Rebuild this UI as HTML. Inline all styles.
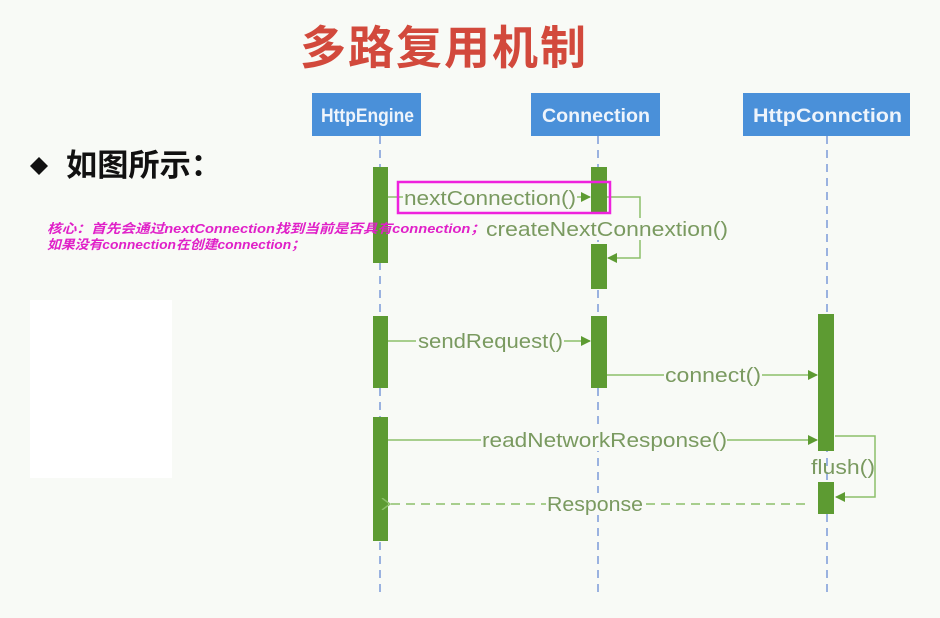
<!DOCTYPE html>
<html><head><meta charset="utf-8"><style>
body{margin:0;width:940px;height:618px;background:#f8faf6;position:relative;overflow:hidden;font-family:"Liberation Sans","Noto Sans CJK SC",sans-serif}
.t{position:absolute;white-space:nowrap}
</style></head><body>
<div class="t" style="left:300px;top:12px;font-size:46px;font-weight:bold;color:#d2493c;letter-spacing:2px">多路复用机制</div>
<div style="position:absolute;left:30px;top:300px;width:142px;height:178px;background:#fff"></div>
<svg width="940" height="618" style="position:absolute;left:0;top:0" font-family="Liberation Sans, Noto Sans CJK SC, sans-serif">
<defs><marker id="a" markerWidth="10" markerHeight="10" refX="9" refY="5" orient="auto" markerUnits="userSpaceOnUse"><path d="M0,0L10,5L0,10z" fill="#5d9b32"/></marker>
<marker id="o" markerWidth="10" markerHeight="12" refX="1" refY="6" orient="auto" markerUnits="userSpaceOnUse"><path d="M9,0L1,6L9,12" fill="none" stroke="#8cbf6a" stroke-width="1.5"/></marker></defs>
<path d="M30,166L39,157L48,166L39,175z" fill="#111"/>
<text x="66" y="176" font-size="31" font-weight="bold" fill="#111" textLength="156" lengthAdjust="spacingAndGlyphs">如图所示：</text>
<g stroke="#7a9ad8" stroke-width="1.5" stroke-dasharray="8,6"><line x1="380" y1="136" x2="380" y2="598"/><line x1="598" y1="136" x2="598" y2="598"/><line x1="827" y1="136" x2="827" y2="598"/></g>
<g fill="#4a90d9"><rect x="312" y="93" width="109" height="43"/><rect x="531" y="93" width="129" height="43"/><rect x="743" y="93" width="167" height="43"/></g>
<g fill="#eef4fb" font-size="19" font-weight="bold"><text x="321" y="122" textLength="93" lengthAdjust="spacingAndGlyphs">HttpEngine</text><text x="542" y="122" textLength="108" lengthAdjust="spacingAndGlyphs">Connection</text><text x="753" y="122" textLength="149" lengthAdjust="spacingAndGlyphs">HttpConnction</text></g>
<g fill="#5d9b32"><rect x="373" y="167" width="15" height="96"/><rect x="373" y="316" width="15" height="72"/><rect x="373" y="417" width="15" height="124"/><rect x="591" y="167" width="16" height="46"/><rect x="591" y="244" width="16" height="45"/><rect x="591" y="316" width="16" height="72"/><rect x="818" y="314" width="16" height="137"/><rect x="818" y="482" width="16" height="32"/></g>
<g font-size="13" font-style="italic" font-weight="bold" fill="#e020c8">
<text x="47" y="233" textLength="438" lengthAdjust="spacingAndGlyphs">核心：首先会通过nextConnection找到当前是否具有connection；</text>
<text x="47" y="249" textLength="258" lengthAdjust="spacingAndGlyphs">如果没有connection在创建connection；</text>
</g>
<g stroke="#8cbf6a" stroke-width="1.5" fill="none">
<line x1="388" y1="197" x2="590" y2="197" marker-end="url(#a)"/>
<polyline points="607,197 640,197 640,258 608,258" marker-end="url(#a)"/>
<line x1="388" y1="341" x2="590" y2="341" marker-end="url(#a)"/>
<line x1="607" y1="375" x2="817" y2="375" marker-end="url(#a)"/>
<line x1="388" y1="440" x2="817" y2="440" marker-end="url(#a)"/>
<polyline points="835,436 875,436 875,497 836,497" marker-end="url(#a)"/>
<line x1="805" y1="504" x2="390" y2="504" stroke-dasharray="9,6" marker-end="url(#o)"/>
</g>
<g font-size="20" fill="#7a9a60">
<rect x="403" y="186" width="174" height="22" fill="#f8faf6"/><text x="404" y="205" textLength="172" lengthAdjust="spacingAndGlyphs">nextConnection()</text>
<rect x="486" y="218" width="242" height="22" fill="#f8faf6"/><text x="486" y="236" textLength="242" lengthAdjust="spacingAndGlyphs">createNextConnextion()</text>
<rect x="416" y="330" width="148" height="22" fill="#f8faf6"/><text x="418" y="348" textLength="145" lengthAdjust="spacingAndGlyphs">sendRequest()</text>
<rect x="664" y="364" width="98" height="22" fill="#f8faf6"/><text x="665" y="382" textLength="96" lengthAdjust="spacingAndGlyphs">connect()</text>
<rect x="481" y="429" width="246" height="22" fill="#f8faf6"/><text x="482" y="447" textLength="245" lengthAdjust="spacingAndGlyphs">readNetworkResponse()</text>
<text x="811" y="474" textLength="64" lengthAdjust="spacingAndGlyphs">flush()</text>
<rect x="546" y="493" width="97" height="22" fill="#f8faf6"/><text x="547" y="511" textLength="96" lengthAdjust="spacingAndGlyphs">Response</text>
</g>
<rect x="398" y="182" width="212" height="31" fill="none" stroke="#ee22dd" stroke-width="2.5"/>
</svg>
</body></html>
